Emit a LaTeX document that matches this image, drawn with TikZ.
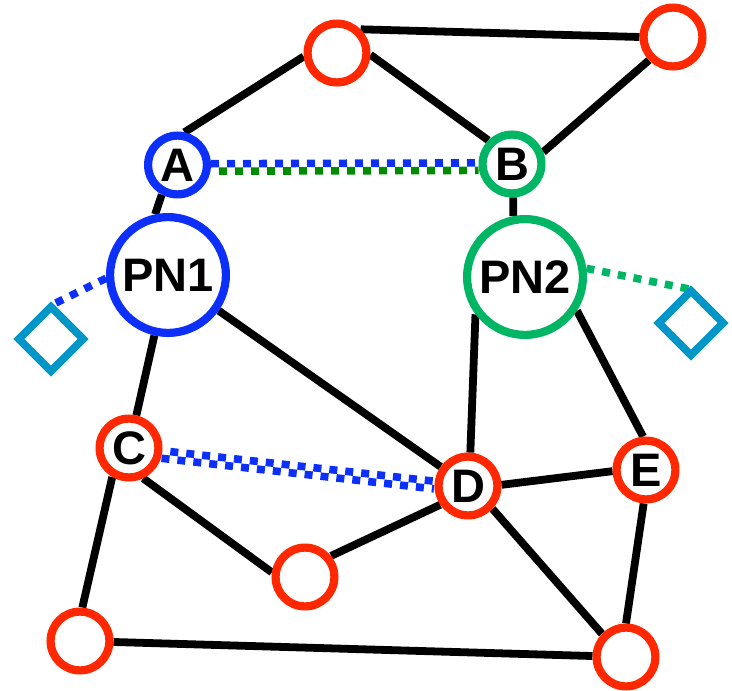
\documentclass[tikz,border=0pt]{standalone}
\usepackage{fontspec}
\setmainfont{Liberation Sans}
\usetikzlibrary{shapes.geometric,backgrounds}
\definecolor{netred}{RGB}{255,40,0}
\definecolor{pnblue}{RGB}{12,48,250}
\definecolor{pngreen}{RGB}{0,182,100}
\definecolor{linkgreen}{RGB}{0,140,0}
\definecolor{devcyan}{RGB}{0,150,200}
\begin{document}
\begin{tikzpicture}[x=1pt,y=-1pt,
  every node/.style={font=\fontsize{47}{50}\selectfont\bfseries},
  vertex/.style={circle,draw=netred,line width=8.2pt,fill=white,minimum size=58.8pt,inner sep=0pt},
  bluevertex/.style={vertex,draw=pnblue},
  greenvertex/.style={vertex,draw=pngreen},
  hub/.style={vertex,minimum size=115.8pt},
  device/.style={diamond,draw=devcyan,line width=7.8pt,fill=white,minimum size=67.5pt,inner sep=0pt},
  link/.style={line width=7.8pt,black},
  dotted link/.style={line width=7.6pt,dash pattern=on 8pt off 8pt},
  offset dots/.style={dotted link,dash phase=8pt}]
\useasboundingbox (0,0) rectangle (732,691);

% network nodes
\node[vertex] (top)  at (337,53)  {};
\node[vertex] (topr) at (673,37)  {};
\node[bluevertex]  (A) at (177.5,165) {A};
\node[greenvertex] (B) at (512,164)   {B};
\node[hub,draw=pnblue]  (PN1) at (168,275) {PN1};
\node[hub,draw=pngreen] (PN2) at (525,277) {PN2};
\node[vertex] (C)  at (129,448) {C};
\node[vertex] (D)  at (468,486) {D};
\node[vertex] (E)  at (646,470) {E};
\node[vertex] (bm) at (305,577) {};
\node[vertex] (bl) at (80,641)  {};
\node[vertex] (br) at (626,657) {};

% devices attached to the private nodes
\node[device] (devL) at (51,339)  {};
\node[device] (devR) at (691,323) {};

\begin{scope}[on background layer]
  % physical links
  \draw[link] (top.186) -- (A.78);
  \draw[link] (top.-3) -- (B.135);
  \draw[link] (top.45) -- (topr.west);
  \draw[link] (topr.224) -- (B.21);
  \draw[link] (A.242) -- (PN1.102);
  \draw[link] (B.-88) -- (PN2.101);
  \draw[link] (PN1) -- (C);
  \draw[link] (PN1) -- (D);
  \draw[link] (PN2.217) -- (D.86);
  \draw[link] (PN2.-33) -- (E.95);
  \draw[link] (C.-65) -- (bm.172);
  \draw[link] (C.-120) -- (bl.86);
  \draw[link] (D.214) -- (bm.39);
  \draw[link] (D.2) -- (E.182);
  \draw[link] (D.-43) -- (br.136);
  \draw[link] (E.266) -- (br.90);
  \draw[link] (bl) -- (br);

  % virtual links between A and B
  \draw[dotted link,pnblue,transform canvas={yshift=1.2pt}] (A) -- (B);
  \draw[offset dots,linkgreen,transform canvas={yshift=-6.3pt}] (A) -- (B);

  % virtual link between C and D
  \draw[offset dots,pnblue,transform canvas={xshift=0.1pt,yshift=1pt}] (C) -- (D);
  \draw[dotted link,pnblue,transform canvas={xshift=-0.8pt,yshift=-6.6pt}] (C) -- (D);

  % device attachments, ending at the top corner of each device
  \draw[dotted link,pnblue] (PN1.183) -- ([yshift=-4pt]devL.north);
  \draw[dotted link,pngreen] (PN2.8) -- ([yshift=-4pt]devR.north);
\end{scope}
\end{tikzpicture}
\end{document}
